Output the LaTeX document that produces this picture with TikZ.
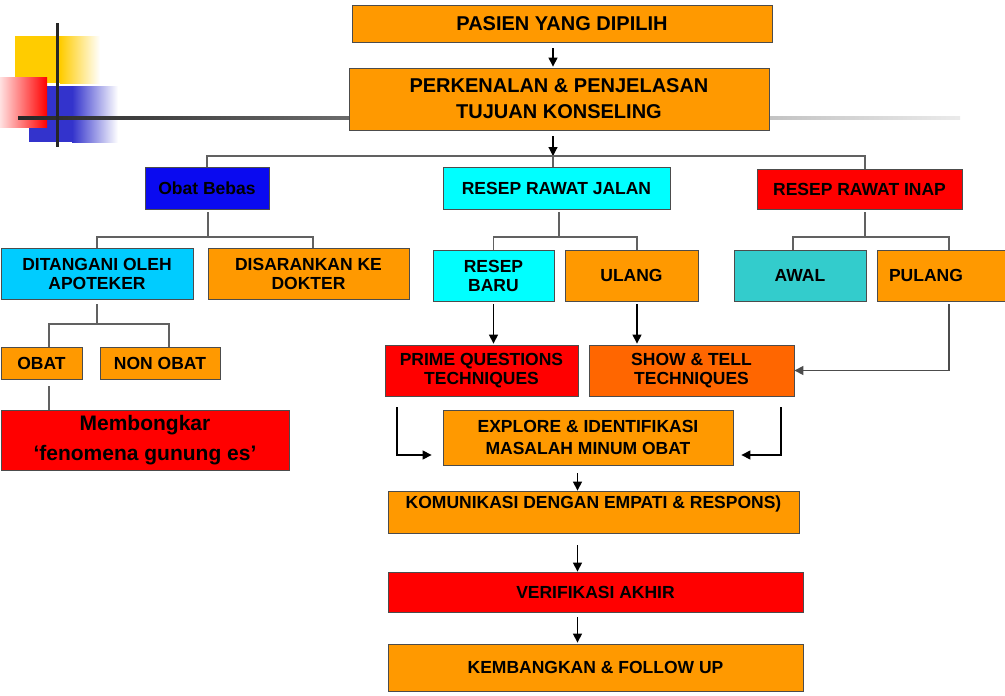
\documentclass[tikz,border=0pt]{standalone}
\usepackage{fontspec}
\setmainfont{Liberation Sans}
\usetikzlibrary{arrows.meta}

\definecolor{oranye}{HTML}{FF9900}
\definecolor{oranyetua}{HTML}{FF6600}
\definecolor{merah}{HTML}{FF0000}
\definecolor{biru}{HTML}{0A0AF0}
\definecolor{birumuda}{HTML}{00CCFF}
\definecolor{sian}{HTML}{00FFFF}
\definecolor{tosca}{HTML}{33CCCC}
\definecolor{kuning}{HTML}{FFCC00}
\definecolor{biruhias}{HTML}{3333CC}

\tikzset{
  kotak/.style={draw=black!70,line width=0.8pt,rectangle,align=center,inner sep=2pt,
    font=\bfseries\fontsize{17.5}{19}\selectfont},
  besar/.style={font=\bfseries\fontsize{20}{26}\selectfont},
  ukuran/.style 2 args={minimum width=#1pt,minimum height=#2pt},
  garis/.style={draw=black!62,line width=1.4pt},
  panah/.style={->,draw=black,line width=1.2pt}
}

\begin{document}
\begin{tikzpicture}[x=1pt,y=-1pt,>={Triangle[length=9pt,width=9pt]}]
\useasboundingbox (0,0) rectangle (1005,696);

% hiasan pojok kiri atas
\fill[kuning] (15,36) rectangle (60,83);
\shade[left color=kuning,right color=white] (60,36) rectangle (100,83);
\fill[biruhias] (29,86) rectangle (72,142);
\shade[left color=biruhias,right color=white] (72,86) rectangle (118,142);
\shade[left color=red!12,right color=red] (0,77) rectangle (47,127);
\shade[left color=black!85,right color=black!8] (18,116.5) rectangle (960,119.5);
\fill[black!85] (55.5,23) rectangle (58.5,147);

% titik bantu
\coordinate (sumbu) at (553,0);
\coordinate (sumbu2) at (577.5,0);
\coordinate (cabang) at (553,156);
\coordinate (j1) at (208,237);
\coordinate (j2) at (97,324);
\coordinate (j3) at (559,237);
\coordinate (j4) at (865,237);
\coordinate (kiri) at (397,407);
\coordinate (kanan) at (781,407);

% kotak
\node[kotak,besar,fill=oranye,ukuran={420}{37}] (pasien) at (562,23.5) {PASIEN YANG DIPILIH};
\node[kotak,besar,fill=oranye,ukuran={420}{62}] (kenal) at (559,99) {PERKENALAN \& PENJELASAN\\TUJUAN KONSELING};

\node[kotak,fill=biru,ukuran={124}{42}] (obatbebas) at (207,188) {Obat Bebas};
\node[kotak,fill=sian,ukuran={227}{42}] (jalan) at (556.5,188) {RESEP RAWAT JALAN};
\node[kotak,fill=merah,ukuran={205}{40}] (inap) at (859.5,189) {RESEP RAWAT INAP};

\node[kotak,fill=birumuda,ukuran={192}{51}] (ditangani) at (97,273.5) {DITANGANI OLEH\\APOTEKER};
\node[kotak,fill=oranye,ukuran={201}{51}] (disarankan) at (308.5,273.5) {DISARANKAN KE\\DOKTER};
\node[kotak,fill=sian,ukuran={121}{51}] (baru) at (493.5,275.5) {RESEP\\BARU};
\node[kotak,fill=oranye,ukuran={133}{51}] (ulang) at (631.5,275.5) {ULANG};
\node[kotak,fill=tosca,ukuran={132}{51}] (awal) at (800,275.5) {AWAL};
\node[kotak,fill=oranye,ukuran={128}{51},inner xsep=12pt,text width=104pt,align=left] (pulang) at (941,275.5) {PULANG};

\node[kotak,fill=oranye,ukuran={81}{32}] (obat) at (41.5,363) {OBAT};
\node[kotak,fill=oranye,ukuran={120}{32}] (nonobat) at (160,363) {NON OBAT};
\node[kotak,fill=merah,ukuran={288}{60},font=\bfseries\fontsize{21}{30}\selectfont] (bongkar) at (145,440) {Membongkar\\‘fenomena gunung es’};

\node[kotak,fill=merah,ukuran={193}{51}] (prime) at (481.5,370.5) {PRIME QUESTIONS\\TECHNIQUES};
\node[kotak,fill=oranyetua,ukuran={205}{51}] (show) at (691.5,370.5) {SHOW \& TELL\\TECHNIQUES};
\node[kotak,fill=oranye,ukuran={290}{55},font=\bfseries\fontsize{17.5}{21.5}\selectfont] (explore) at (588,437.5) {EXPLORE \& IDENTIFIKASI\\MASALAH MINUM OBAT};

\node[kotak,fill=oranye,ukuran={411}{42},inner ysep=4pt,text height=13pt,text depth=21pt] (komunikasi) at (593.5,512) {KOMUNIKASI DENGAN EMPATI \& RESPONS)};
\node[kotak,fill=merah,ukuran={415}{40}] (verifikasi) at (595.5,592) {VERIFIKASI AKHIR};
\node[kotak,fill=oranye,ukuran={415}{47}] (kembang) at (595.5,667.5) {KEMBANGKAN \& FOLLOW UP};

% percabangan
\draw[panah,shorten <=6pt,shorten >=1pt] (pasien.south -| sumbu) -- (kenal.north -| sumbu);
\draw[panah,shorten <=6pt] (kenal.south -| sumbu) -- (cabang);
\draw[garis] (obatbebas.north) |- (cabang) -| ([xshift=5.5pt]inap.north);
\draw[garis] (cabang) -- (jalan.north -| cabang);

\draw[garis,shorten <=3pt] (j1 |- obatbebas.south) -- (j1);
\draw[garis] (ditangani.north) |- (j1) -| ([xshift=4.5pt]disarankan.north);
\draw[garis,shorten <=5pt] (j2 |- ditangani.south) -- (j2);
\draw[garis] ([xshift=7.5pt]obat.north) |- (j2) -| ([xshift=9pt]nonobat.north);
\draw[garis,shorten <=7pt] ([xshift=7.5pt]obat.south) -- ([xshift=7.5pt]obat.south |- bongkar.north);

\draw[garis,shorten <=3pt] (j3 |- jalan.south) -- (j3);
\draw[garis] (baru.north) |- (j3) -| ([xshift=5.5pt]ulang.north);
\draw[garis,shorten <=3pt] (j4 |- inap.south) -- (j4);
\draw[garis] ([xshift=-7pt]awal.north) |- (j4) -| ([xshift=8pt]pulang.north);

% panah ke teknik
\draw[panah,shorten <=3pt,shorten >=1pt] (baru.south) -- (baru.south |- prime.north);
\draw[panah,shorten <=3pt,shorten >=1pt] ([xshift=5.5pt]ulang.south) -- ([xshift=5.5pt]ulang.south |- show.north);
\draw[panah,draw=black!70,shorten <=3pt] ([xshift=8pt]pulang.south) |- (show.east);

% ke explore
\draw[panah] (kiri) |- ([xshift=-11pt,yshift=-17.5pt]explore.west);
\draw[panah] (kanan) |- ([xshift=8pt,yshift=-17.5pt]explore.east);

% alur bawah
\draw[panah,shorten <=8pt] (explore.south -| sumbu2) -- (komunikasi.north -| sumbu2);
\draw[panah,shorten <=12pt] (komunikasi.south -| sumbu2) -- (verifikasi.north -| sumbu2);
\draw[panah,shorten <=5pt,shorten >=1pt] (verifikasi.south -| sumbu2) -- (kembang.north -| sumbu2);
\end{tikzpicture}
\end{document}
